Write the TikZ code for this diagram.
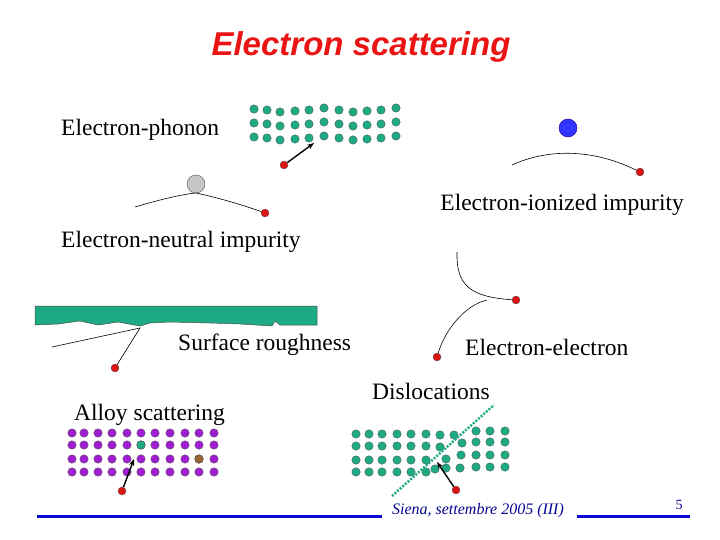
\documentclass[tikz,border=0pt]{standalone}
\usepackage{fontspec}
\setmainfont{Liberation Serif}
\newfontfamily\titlefont{Liberation Sans}
\usetikzlibrary{arrows.meta}
\definecolor{gdot}{RGB}{30,170,130}
\definecolor{pdot}{RGB}{160,30,210}
\definecolor{rdot}{RGB}{220,20,20}
\definecolor{bline}{RGB}{10,10,210}
\definecolor{tred}{RGB}{235,20,20}
\begin{document}
\begin{tikzpicture}[x=1pt,y=-1pt,
  lbl/.style={font=\fontsize{23.5}{26}\selectfont,inner sep=0pt},
  gd/.style={circle,fill=gdot,draw=black!70,line width=0.3pt,minimum size=8.5pt,inner sep=0pt},
  pd/.style={circle,fill=pdot,draw=black!70,line width=0.3pt,minimum size=8.5pt,inner sep=0pt},
  el/.style={circle,fill=rdot,draw=black!70,line width=0.3pt,minimum size=8pt,inner sep=0pt},
  traj/.style={black,line width=0.6pt},
  hit/.style={black,line width=1.4pt,-{Stealth[length=7pt]}}]
\useasboundingbox (0,0) rectangle (720,540);
\fill[white] (0,0) rectangle (720,540);
% title
\node[font=\titlefont\bfseries\itshape\fontsize{33}{36}\selectfont,text=tred] (title) at (361,47) {Electron scattering};
% labels
\node[lbl,anchor=west] (lph) at (61,130) {Electron-phonon};
\node[lbl,anchor=east] (lion) at (684,205) {Electron-ionized impurity};
\node[lbl,anchor=west] (lneu) at (61,242) {Electron-neutral impurity};
\node[lbl,anchor=west] (lsr) at (178,345) {Surface roughness};
\node[lbl,anchor=west] (lee) at (465,347) {Electron-electron};
\node[lbl,anchor=west] (ldis) at (372,391) {Dislocations};
\node[lbl,anchor=west] (lal) at (74,415) {Alloy scattering};
% phonon lattice
\foreach \x/\dy [count=\i] in {254/0,267/1,280/3,295/2,309/1,324/-1,339/1,353/3,367/2,381/1,396/-1}{
  \foreach \y [count=\j] in {109,123,137}{
    \node[gd] (ph-\i-\j) at (\x,\y+\dy) {};}}
\node[el] (eph) at (284,165) {};
\coordinate (tph) at (314,143);
\draw[hit] (eph) -- (tph);
% ionized impurity
\node[circle,fill=blue!80!white,draw=blue!60!black,minimum size=18pt,inner sep=0pt] (ion) at (568,128) {};
\node[el] (eion) at (640,172) {};
\coordinate (sion) at (512,165);
\draw[traj] (sion) .. controls (540,152) and (585,145) .. (eion);
% neutral impurity
\node[circle,fill=gray!45,draw=gray!70!black,minimum size=18pt,inner sep=0pt] (neu) at (196,184) {};
\node[el] (eneu) at (265,213) {};
\coordinate (sneu) at (135,207);
\draw[traj] (sneu) .. controls (165,198) and (185,194) .. (196,193) .. controls (215,197) and (240,204) .. (eneu);
% electron-electron
\node[el] (ee1) at (516,300) {};
\coordinate (se1) at (457,252);
\draw[traj] (se1) .. controls (456,285) and (470,297) .. (ee1);
\node[el] (ee2) at (437,357) {};
\coordinate (se2) at (487,300);
\draw[traj] (ee2) .. controls (445,330) and (465,305) .. (se2);
% surface roughness
\def\rough{(35,306) -- (317,306) -- (317,325) -- (280,325) -- (275,321) -- (272,326) -- (240,324) -- (210,323) -- (170,322) -- (150,323) -- (140,326) -- (118,322) -- (98,325) -- (80,321) -- (58,324) -- (35,325) -- cycle}
\fill[gdot] \rough;
\draw[black!70,line width=0.5pt] \rough;
\node[el] (esr) at (115,368) {};
\coordinate (ssr) at (52,347);
\coordinate (bsr) at (140,328);
\draw[traj] (ssr) -- (bsr) -- (esr);
% alloy lattice
\foreach \x [count=\i] in {72,84,98,112,127,141,155,170,185,199,214}{
  \foreach \y [count=\j] in {433,445,459,472}{
    \node[pd] (al-\i-\j) at (\x,\y) {};}}
\node[gd] at (al-6-2) {};
\node[circle,fill=brown!80!black,draw=black!70,line width=0.3pt,minimum size=8.5pt,inner sep=0pt] at (al-10-3) {};
\node[el] (eal) at (122,491) {};
\coordinate (tal) at (134,459);
\draw[hit] (eal) -- (tal);
% dislocation lattice
\foreach \x [count=\i] in {356,369,382,397,411,426}{
  \foreach \y [count=\j] in {434,446,460,472}{
    \node[gd] (d-\i-\j) at (\x,\y) {};}}
\node[gd] at (440,435) {}; \node[gd] at (440,447) {};
\node[gd] at (454,435) {}; \node[gd] at (446,459) {};
\node[gd] at (435,469) {}; \node[gd] at (446,468) {};
\node[gd] at (462,443) {};
\node[gd] at (461,455) {}; \node[gd] at (460,468) {};
\foreach \x in {476,490,505}{
  \foreach \y in {431,442,455,467}{
    \node[gd] at (\x,\y) {};}}
\coordinate (da) at (392,496);
\coordinate (db) at (494,405);
\draw[gdot,line width=2.5pt,dash pattern=on 2pt off 1.5pt] (da) -- (db);
\node[el] (edis) at (456,490) {};
\coordinate (tdis) at (437,462);
\draw[hit] (edis) -- (tdis);
% footer
\coordinate (f1) at (37,516); \coordinate (f2) at (382,516);
\coordinate (f3) at (577,516); \coordinate (f4) at (690,516);
\draw[bline,line width=3pt] (f1) -- (f2);
\draw[bline,line width=3pt] (f3) -- (f4);
\node[font=\itshape\fontsize{16}{18}\selectfont,text=bline!70!black] (foot) at (478,511) {Siena, settembre 2005 (III)};
\node[font=\fontsize{14}{16}\selectfont,text=bline!70!black] (pg) at (679,505) {5};
\end{tikzpicture}
\end{document}
